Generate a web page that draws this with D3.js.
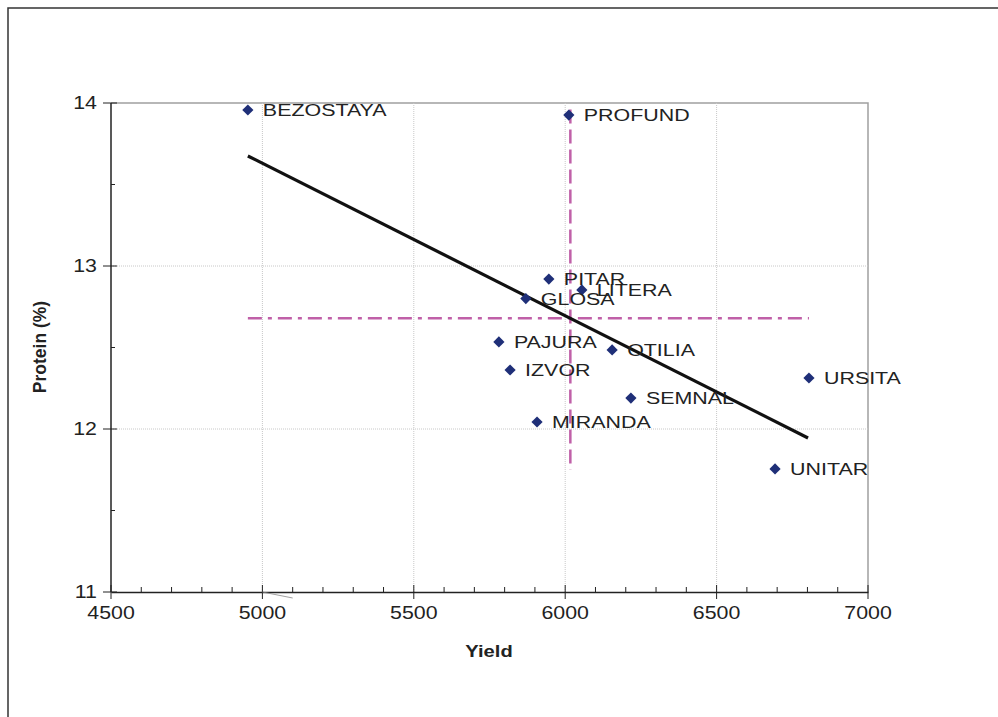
<!DOCTYPE html>
<html><head><meta charset="utf-8">
<script src="https://cdn.jsdelivr.net/npm/d3@7"></script>
<style>body{margin:0;background:#fff}svg{display:block;font-family:"Liberation Sans",Arial,sans-serif}</style>
</head><body><svg id="c" width="998" height="717"></svg>
<script>
const varieties = ["BEZOSTAYA","PROFUND","PITAR","LITERA","GLOSA","PAJURA","OTILIA","IZVOR","SEMNAL","URSITA","MIRANDA","UNITAR"];
const yieldVals = [4952,6012,5946,6055,5870,5781,6155,5818,6217,6805,5907,6693];
const proteinVals = [13.957,13.926,12.92,12.853,12.80,12.534,12.485,12.362,12.19,12.313,12.043,11.755];
const trendX = [4952,6802];
const trendY = [13.675,11.945];
const meanYield = 6017;
const meanYieldRange = [11.75,13.96];
const meanProtein = 12.68;
const meanProteinRange = [4952,6805];
const xTicks = [4500,5000,5500,6000,6500,7000];
const yTicks = [11,12,13,14];

const svg = d3.select("#c");
const x = d3.scaleLinear().domain([4500,7000]).range([111,868]);
const y = d3.scaleLinear().domain([11,14]).range([592,103]);

// outer frame
svg.append("rect").attr("x",8).attr("y",8).attr("width",1100).attr("height",800)
  .attr("fill","none").attr("stroke","#333").attr("stroke-width",1.5);

// plot border (top/right)
svg.append("path").attr("d",`M${x(4500)},${y(14)}H${x(7000)}V${y(11)}`).attr("fill","none").attr("stroke","#a0a0a0").attr("stroke-width",1.5);

// gridlines
const g = svg.append("g");
g.selectAll(".gx").data(xTicks.slice(1,-1)).join("line")
  .attr("x1",d=>x(d)).attr("x2",d=>x(d)).attr("y1",y(14)).attr("y2",y(11))
  .attr("stroke","#c8c8c8").attr("stroke-dasharray","1,1");
g.selectAll(".gy").data(yTicks.slice(1,-1)).join("line")
  .attr("y1",d=>y(d)).attr("y2",d=>y(d)).attr("x1",x(4500)).attr("x2",x(7000))
  .attr("stroke","#c8c8c8").attr("stroke-dasharray","1,1");

// axes
const xa = svg.append("g").attr("transform",`translate(0,${y(11)})`);
xa.call(d3.axisBottom(x).tickValues(d3.range(4500,7001,100)).tickSize(0).tickFormat(""));
xa.select(".domain").attr("stroke","#222").attr("stroke-width",1.5);
xa.selectAll(".tick line").remove();
xa.selectAll(".mt").data(d3.range(4500,7001,100)).join("line")
  .attr("x1",d=>x(d)).attr("x2",d=>x(d))
  .attr("y1",d=>d%500===0?-7:-5).attr("y2",d=>d%500===0?7:0)
  .attr("stroke","#222").attr("stroke-width",1);
xa.selectAll(".xl").data(xTicks).join("text")
  .attr("transform",d=>`translate(${x(d)},27) scale(1.22,1)`).attr("text-anchor","middle")
  .attr("font-size",17.5).attr("fill","#222").text(d=>d);

const ya = svg.append("g").attr("transform",`translate(${x(4500)},0)`);
ya.append("line").attr("x1",0).attr("x2",0).attr("y1",y(14)).attr("y2",y(11)).attr("stroke","#222").attr("stroke-width",1.5);
ya.selectAll(".mt").data(d3.range(11,14.01,0.5)).join("line")
  .attr("y1",d=>y(d)).attr("y2",d=>y(d))
  .attr("x1",d=>d%1===0?-8:0).attr("x2",d=>d%1===0?6:4)
  .attr("stroke","#222").attr("stroke-width",1);
ya.selectAll(".yl").data(yTicks).join("text")
  .attr("transform",d=>`translate(-14,${y(d)+6}) scale(1.22,1)`).attr("text-anchor","end")
  .attr("font-size",17.5).attr("fill","#222").text(d=>d);

// small artifact line near axis
svg.append("line").attr("x1",x(5000)).attr("y1",y(11)).attr("x2",x(5100)).attr("y2",y(11)+6)
  .attr("stroke","#888").attr("stroke-width",0.8);

// axis titles
svg.append("text").attr("transform","translate(489,657) scale(1.22,1)").attr("text-anchor","middle")
  .attr("font-size",16.5).attr("font-weight","bold").attr("fill","#222").text("Yield");
svg.append("text").attr("transform",`translate(46,347) rotate(-90)`).attr("text-anchor","middle")
  .attr("font-size",17.5).attr("font-weight","bold").attr("fill","#222").text("Protein (%)");

// mean lines
svg.append("line").attr("x1",x(meanYield)).attr("x2",x(meanYield))
  .attr("y1",y(meanYieldRange[1])).attr("y2",y(meanYieldRange[0]))
  .attr("stroke","#c060a8").attr("stroke-width",2.5).attr("stroke-dasharray","14,6");
svg.append("line").attr("y1",y(meanProtein)).attr("y2",y(meanProtein))
  .attr("x1",x(meanProteinRange[0])).attr("x2",x(meanProteinRange[1]))
  .attr("stroke","#c060a8").attr("stroke-width",2.5).attr("stroke-dasharray","14,6,4,6");

// trend line
svg.append("line").attr("x1",x(trendX[0])).attr("y1",y(trendY[0])).attr("x2",x(trendX[1])).attr("y2",y(trendY[1]))
  .attr("stroke","#111").attr("stroke-width",3.2);

// points
const pts = varieties.map((n,i)=>({n,x:yieldVals[i],y:proteinVals[i]}));
svg.selectAll(".pt").data(pts).join("path")
  .attr("d",d3.symbol().type(d3.symbolDiamond2).size(80))
  .attr("transform",d=>`translate(${x(d.x)},${y(d.y)})`)
  .attr("fill","#1f2f78");
svg.selectAll(".lb").data(pts).join("text")
  .attr("transform",d=>`translate(${x(d.x)+15},${y(d.y)+6}) scale(1.26,1)`)
  .attr("font-size",17).attr("fill","#222").text(d=>d.n);
</script></body></html>
